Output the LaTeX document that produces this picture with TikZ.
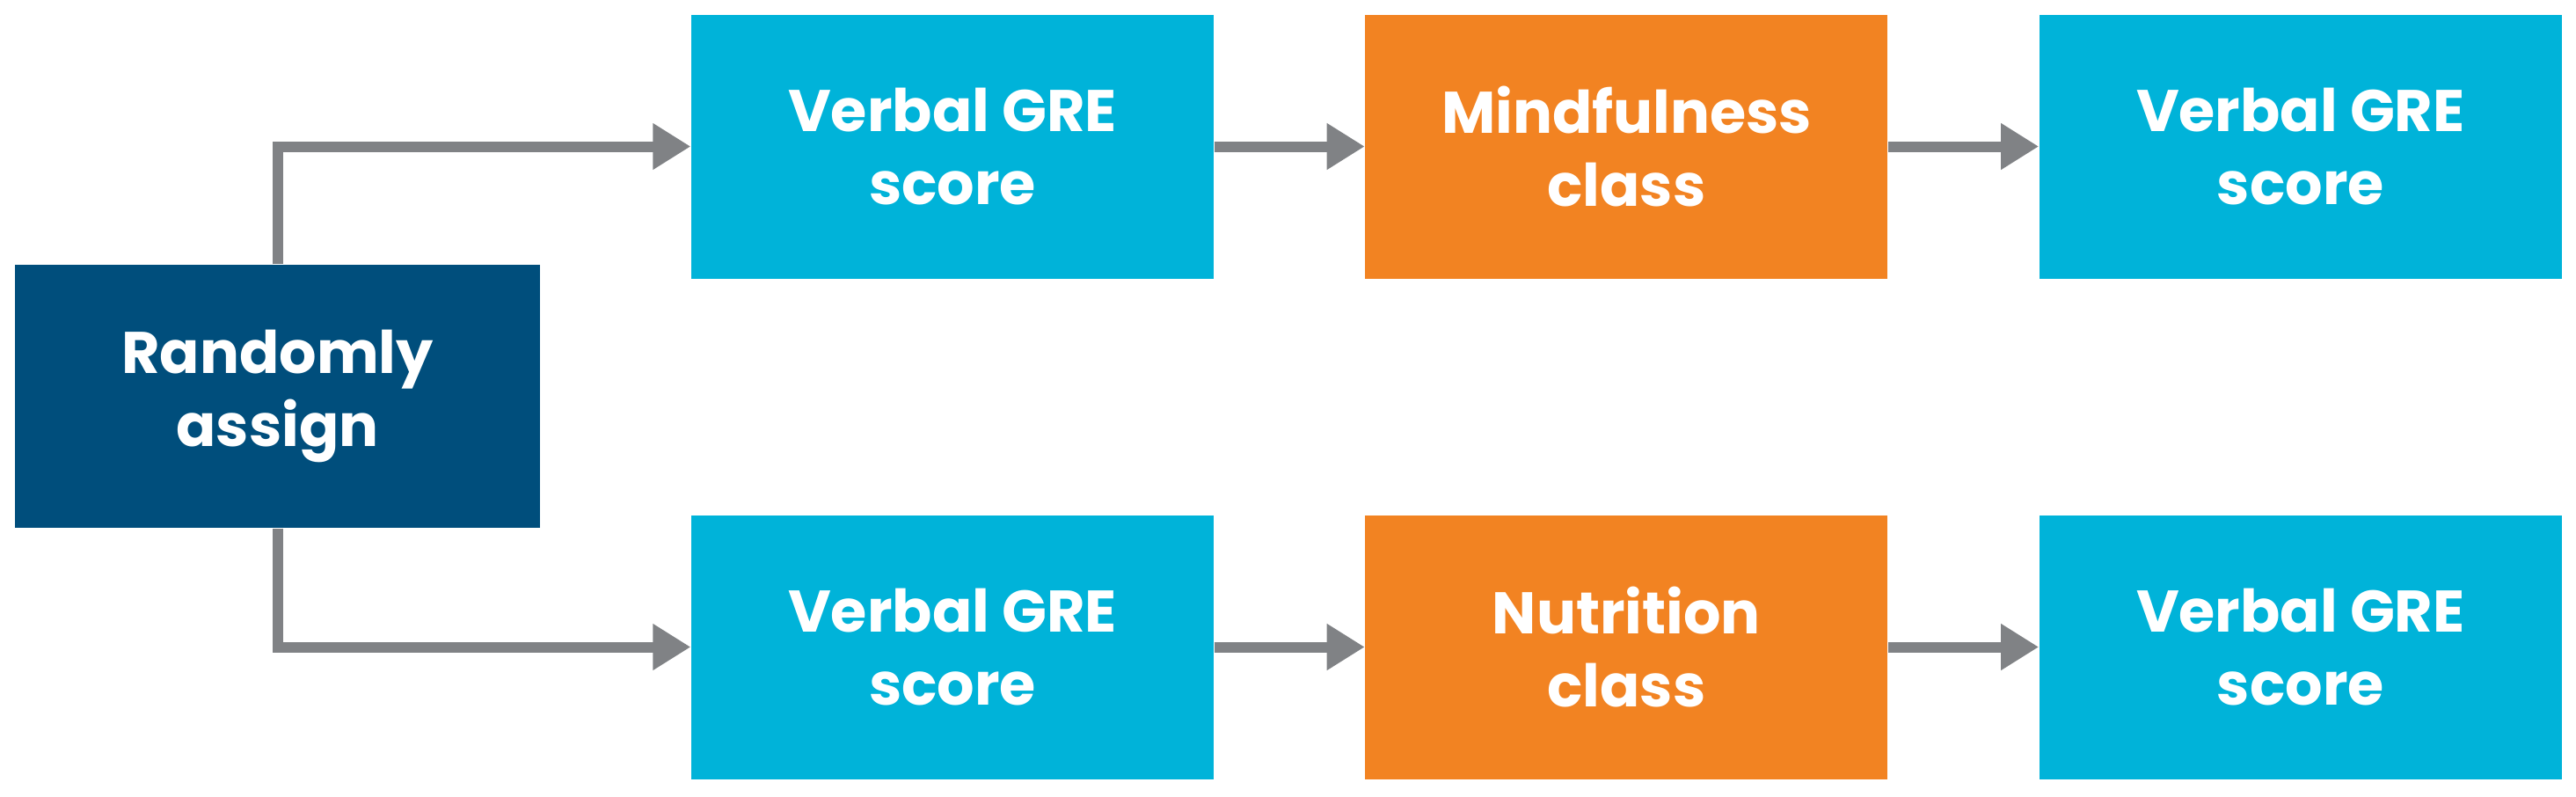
\documentclass[tikz,border=0pt]{standalone}
\usepackage{fontspec}
\setmainfont{Poppins}
\usetikzlibrary{positioning,arrows.meta}
\definecolor{DeepBlue}{RGB}{0,78,124}
\definecolor{SkyBlue}{RGB}{0,179,217}
\definecolor{Tangerine}{RGB}{242,131,34}
\definecolor{ArrowGray}{RGB}{128,130,133}

\begin{document}
\begin{tikzpicture}[
    node distance=1.71cm,
    block/.style={
        rectangle, fill=#1,
        minimum width=5.94cm, minimum height=3cm,
        text=white, align=center, inner sep=0pt,
        font=\fontsize{19}{23.5}\selectfont\bfseries
    },
    arrow/.style={-{Triangle[length=0.43cm,width=0.5cm]}, line width=0.12cm, ArrowGray, line join=miter}
]
\useasboundingbox (0,0) rectangle (29.29,9.05);

\node[block=DeepBlue, minimum width=5.97cm, minimum height=2.99cm] (assign) at (3.155,4.545) {Randomly\\assign};

% top row
\node[block=SkyBlue] (pre1) at (10.83,7.385) {Verbal GRE\\score};
\node[block=Tangerine, right=of pre1] (mind) {Mindfulness\\class};
\node[block=SkyBlue, right=of mind] (post1) {Verbal GRE\\score};

% bottom row
\node[block=SkyBlue] (pre2) at (10.83,1.695) {Verbal GRE\\score};
\node[block=Tangerine, right=of pre2] (nutr) {Nutrition\\class};
\node[block=SkyBlue, right=of nutr] (post2) {Verbal GRE\\score};

\draw[arrow] (assign.north) |- (pre1.west);
\draw[arrow] (assign.south) |- (pre2.west);
\draw[arrow] (pre1) -- (mind);
\draw[arrow] (mind) -- (post1);
\draw[arrow] (pre2) -- (nutr);
\draw[arrow] (nutr) -- (post2);

\end{tikzpicture}
\end{document}
